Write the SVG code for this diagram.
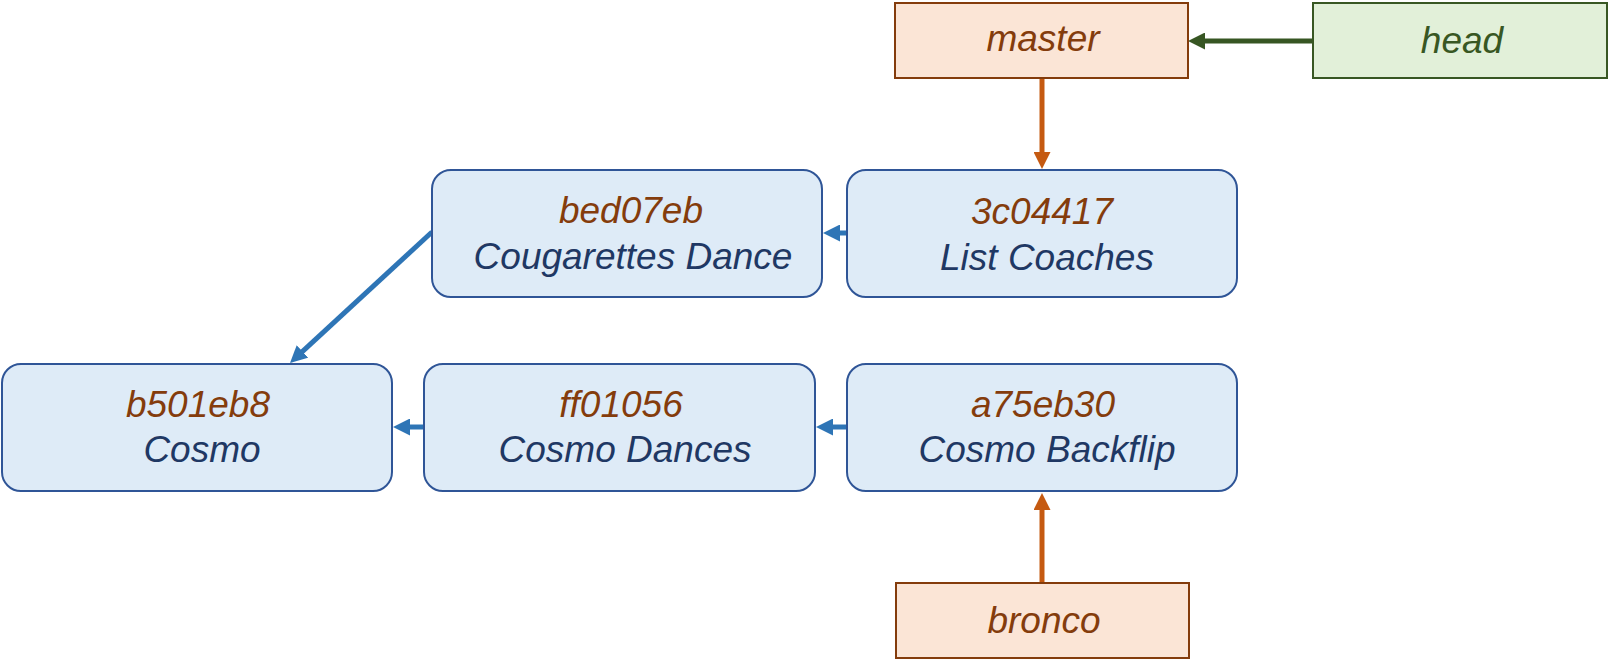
<svg xmlns="http://www.w3.org/2000/svg" width="1608" height="668" viewBox="0 0 1608 668">
  <defs>
    <style>
      .commit rect { fill: #deebf7; stroke: #2f5597; stroke-width: 2; }
      .branch rect { fill: #fbe5d6; stroke: #843c0c; stroke-width: 2; }
      .headbox rect { fill: #e2f0d9; stroke: #385723; stroke-width: 2; }
      text { font-family: "Liberation Sans", Arial, sans-serif; font-style: italic; font-size: 37px; text-anchor: middle; }
      .hash { fill: #843c0c; }
      .msg { fill: #1f3864; }
      .bname { fill: #843c0c; }
      .hname { fill: #385723; }
      .blue { stroke: #2e75b6; stroke-width: 5; fill: none; marker-end: url(#arrBlue); }
      .orange { stroke: #c55a11; stroke-width: 5; fill: none; marker-end: url(#arrOrange); }
      .green { stroke: #375623; stroke-width: 5; fill: none; marker-end: url(#arrGreen); }
    </style>
    <marker id="arrBlue" markerUnits="userSpaceOnUse" markerWidth="17" markerHeight="17" refX="5" refY="8.5" orient="auto" viewBox="0 0 17 17">
      <path d="M0,0 L17,8.5 L0,17 z" fill="#2e75b6"/>
    </marker>
    <marker id="arrOrange" markerUnits="userSpaceOnUse" markerWidth="17" markerHeight="17" refX="5" refY="8.5" orient="auto" viewBox="0 0 17 17">
      <path d="M0,0 L17,8.5 L0,17 z" fill="#c55a11"/>
    </marker>
    <marker id="arrGreen" markerUnits="userSpaceOnUse" markerWidth="17" markerHeight="17" refX="5" refY="8.5" orient="auto" viewBox="0 0 17 17">
      <path d="M0,0 L17,8.5 L0,17 z" fill="#375623"/>
    </marker>
  </defs>
  <rect width="1608" height="668" fill="#ffffff"/>

  <g id="connectors">
    <line class="green" x1="1313" y1="41" x2="1200" y2="41"/>
    <line class="orange" x1="1042" y1="78" x2="1042" y2="157"/>
    <line class="orange" x1="1042" y1="583" x2="1042" y2="505"/>
    <line class="blue" x1="847" y1="233" x2="835" y2="233"/>
    <line class="blue" x1="432" y1="232" x2="298.8" y2="354.9"/>
    <line class="blue" x1="424" y1="427" x2="405" y2="427"/>
    <line class="blue" x1="847" y1="427" x2="828" y2="427"/>
  </g>

  <g id="master" class="branch">
    <rect x="895" y="3" width="293" height="75"/>
    <text class="bname" x="1043" y="51">master</text>
  </g>
  <g id="head" class="headbox">
    <rect x="1313" y="3" width="294" height="75"/>
    <text class="hname" x="1462" y="53">head</text>
  </g>
  <g id="bronco" class="branch">
    <rect x="896" y="583" width="293" height="75"/>
    <text class="bname" x="1044" y="633">bronco</text>
  </g>

  <g id="c-bed07eb" class="commit">
    <rect x="432" y="170" width="390" height="127" rx="19"/>
    <text class="hash" x="631" y="223">bed07eb</text>
    <text class="msg" x="633" y="269">Cougarettes Dance</text>
  </g>
  <g id="c-3c04417" class="commit">
    <rect x="847" y="170" width="390" height="127" rx="19"/>
    <text class="hash" x="1042" y="224">3c04417</text>
    <text class="msg" x="1047" y="270">List Coaches</text>
  </g>
  <g id="c-b501eb8" class="commit">
    <rect x="2" y="364" width="390" height="127" rx="19"/>
    <text class="hash" x="198" y="417">b501eb8</text>
    <text class="msg" x="202" y="462">Cosmo</text>
  </g>
  <g id="c-ff01056" class="commit">
    <rect x="424" y="364" width="391" height="127" rx="19"/>
    <text class="hash" x="621" y="417">ff01056</text>
    <text class="msg" x="625" y="462">Cosmo Dances</text>
  </g>
  <g id="c-a75eb30" class="commit">
    <rect x="847" y="364" width="390" height="127" rx="19"/>
    <text class="hash" x="1043" y="417">a75eb30</text>
    <text class="msg" x="1047" y="462">Cosmo Backflip</text>
  </g>
</svg>
